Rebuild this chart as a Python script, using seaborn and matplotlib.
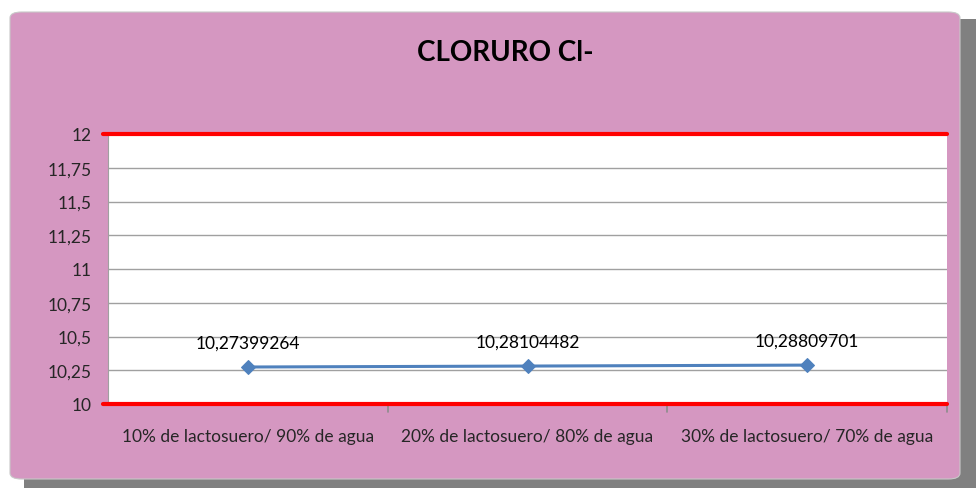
import pandas as pd
import matplotlib
matplotlib.use('Agg')
import matplotlib.pyplot as plt
import seaborn as sns
from matplotlib.patches import FancyBboxPatch, Rectangle

# datos
categories = ['10% de lactosuero/ 90% de agua',
              '20% de lactosuero/ 80% de agua',
              '30% de lactosuero/ 70% de agua']
values = [10.27399264, 10.28104482, 10.28809701]
value_labels = ['10,27399264', '10,28104482', '10,28809701']
y_ticks = [10, 10.25, 10.5, 10.75, 11, 11.25, 11.5, 11.75, 12]

df = pd.DataFrame({'pos': range(len(categories)), 'cloruro': values})

sns.set_style('white')
plt.rcParams['font.family'] = ['Lato', 'DejaVu Sans']

pink = '#D597C1'
fig = plt.figure(figsize=(9.76, 4.89), dpi=100)
fig.patch.set_facecolor('white')

# sombra y panel rosado
fig.patches.append(Rectangle((24 / 976, 0), 952 / 976, 1 - 20 / 489,
                             transform=fig.transFigure, facecolor='#808080',
                             edgecolor='none', zorder=0))
fig.patches.append(FancyBboxPatch((10 / 976, 9 / 489), 950 / 976, 1 - 22 / 489,
                                  boxstyle='round,pad=0,rounding_size=0.012',
                                  transform=fig.transFigure, facecolor=pink,
                                  edgecolor='#c8c8c8', linewidth=0.8, zorder=1))

ax = fig.add_axes([108 / 976, 1 - 405 / 489, 839 / 976, 270 / 489])
ax.set_zorder(5)
ax.set_facecolor('white')

sns.lineplot(data=df, x='pos', y='cloruro', ax=ax, color='#4F81BD',
             marker='D', markersize=7.5, markeredgecolor='#4F81BD',
             linewidth=2.2, zorder=5)

for x, y, lab in zip(df['pos'], values, value_labels):
    ax.annotate(lab, (x, y), xytext=(0, 12), textcoords='offset points',
                ha='center', va='bottom', fontsize=12.5, color='black')

ax.set_xlim(-0.5, 2.5)
ax.set_ylim(10, 12)
ax.set_yticks(y_ticks)
ax.set_yticklabels([f'{t:g}'.replace('.', ',') for t in y_ticks], fontsize=12.5)
ax.set_xticks(range(len(categories)))
ax.set_xticklabels(categories, fontsize=12.5)
ax.tick_params(axis='x', length=0, pad=17)
ax.tick_params(axis='y', length=0, pad=12)

for t in y_ticks[1:-1]:
    ax.axhline(t, color='#a0a0a0', linewidth=1, zorder=1)
for t in [10, 12]:
    ax.axhline(t, color='#FF0000', linewidth=3, zorder=3, clip_on=False,
               xmin=-0.006)
# marcas de separacion de categorias
for b in [0.5, 1.5, 2.5]:
    ax.plot([b, b], [10, 9.94], color='#8c8c8c', linewidth=1.2,
            clip_on=False, zorder=2)

for s in ['top', 'right', 'bottom']:
    ax.spines[s].set_visible(False)
ax.spines['left'].set_color('#a0a0a0')
ax.set_xlabel('')
ax.set_ylabel('')

fig.text(505 / 976, 1 - 53 / 489, 'CLORURO Cl-', ha='center', va='center',
         fontsize=20, fontweight='bold', color='black')

fig.savefig('out.png', dpi=100, facecolor=fig.get_facecolor())
